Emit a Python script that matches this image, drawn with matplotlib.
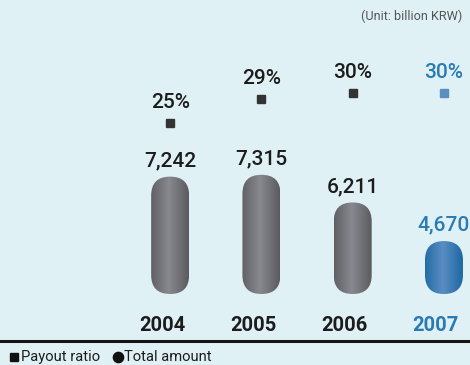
import numpy as np
import matplotlib.pyplot as plt
from matplotlib.patches import FancyBboxPatch
from matplotlib.colors import LinearSegmentedColormap
from matplotlib.lines import Line2D

plt.rcParams['font.family'] = ['Roboto', 'DejaVu Sans']

# dividend data
years = ['2004', '2005', '2006', '2007']
total_amount = [7242, 7315, 6211, 4670]   # billion KRW
payout_ratio = [25, 29, 30, 30]           # %
highlight = [False, False, False, True]

BG = '#e0f1f6'
DARK = '#1c1c1c'
BLUE = '#2a7ab4'
W, H = 470, 365

fig = plt.figure(figsize=(W / 100, H / 100), dpi=100)
fig.patch.set_facecolor(BG)

# main axes: from the bar baseline up to the top of the figure
ax = fig.add_axes([0, 71 / H, 1, 294 / H])
ax.axis('off')
xlim = (-1.864, 3.285)
ylim = (2558, 2558 + 294 * 39.9)

grey_cmap = LinearSegmentedColormap.from_list('g', ['#5b5b5f', '#888990'])
blue_cmap = LinearSegmentedColormap.from_list('b', ['#1d68a3', '#5a8dc2'])
t = np.linspace(0, 1, 80)
grad = np.clip(1 - np.abs(t - 0.47) / 0.53, 0, 1)[None, :]

# y-units per x-unit so the pill ends come out round
aspect = ((ylim[1] - ylim[0]) / 294) / ((xlim[1] - xlim[0]) / W)
bar_w = 0.416
y0 = ylim[0]

for i, v in enumerate(total_amount):
    x0 = i - bar_w / 2
    pill = FancyBboxPatch((x0, y0), bar_w, v - y0,
                          boxstyle=f"round,pad=0,rounding_size={bar_w / 2}",
                          mutation_aspect=aspect, facecolor='none', edgecolor='none')
    ax.add_patch(pill)
    im = ax.imshow(grad, cmap=blue_cmap if highlight[i] else grey_cmap,
                   extent=(x0, x0 + bar_w, y0, v), aspect='auto', origin='lower',
                   interpolation='bilinear')
    im.set_clip_path(pill)
    col = BLUE if highlight[i] else DARK
    ax.annotate(f"{v:,}", xy=(i, v), xytext=(0, 7.5), textcoords='offset points',
                ha='center', va='baseline', fontsize=15, fontweight='medium', color=col)
    ax.annotate(years[i], xy=(i, y0), xytext=(-5.8, -23), textcoords='offset points',
                ha='center', va='center', fontsize=14.5, fontweight='bold', color=col,
                annotation_clip=False)

ax.set_xlim(*xlim)
ax.set_ylim(*ylim)

# payout ratio on its own scale
ax2 = ax.twinx()
ax2.axis('off')
ax2.set_ylim(-3.53, 45.47)
for i, p in enumerate(payout_ratio):
    col = BLUE if highlight[i] else DARK
    ax2.plot(i, p, marker='s', ms=5.8, color='#5a8fc0' if highlight[i] else '#333333',
             linestyle='none')
    ax2.annotate(f"{p}%", xy=(i, p), xytext=(0, 10.4), textcoords='offset points',
                 ha='center', va='baseline', fontsize=15, fontweight='medium', color=col)

fig.text(462 / W, 1 - 16 / H, '(Unit: billion KRW)', ha='right', va='center',
         fontsize=9.1, color='#555555')

# baseline rule
fig.add_artist(Line2D([0, 1], [1 - 340.7 / H] * 2, lw=2.2, color='#151515',
                      transform=fig.transFigure))

# legend
ly = 1 - 357 / H
fig.add_artist(Line2D([14 / W], [ly], marker='s', ms=6.3, color='#111111',
                      linestyle='none', transform=fig.transFigure))
fig.text(21 / W, ly, 'Payout ratio', ha='left', va='center', fontsize=10.6, color=DARK)
fig.add_artist(Line2D([118 / W], [ly], marker='o', ms=7.4, color='#111111',
                      linestyle='none', transform=fig.transFigure))
fig.text(124 / W, ly, 'Total amount', ha='left', va='center', fontsize=10.6, color=DARK)

fig.savefig('out.png', dpi=100, facecolor=BG)
